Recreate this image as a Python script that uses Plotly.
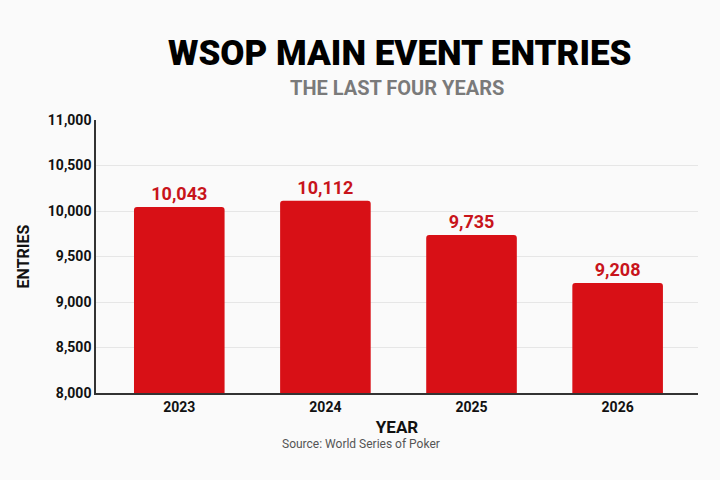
import plotly.graph_objects as go

years = ["2023", "2024", "2025", "2026"]
entries = [10043, 10112, 9735, 9208]
y_ticks = [8000, 8500, 9000, 9500, 10000, 10500, 11000]
y_tick_labels = ["8,000", "8,500", "9,000", "9,500", "10,000", "10,500", "11,000"]

BAR = "#D81016"
fig = go.Figure()
fig.add_trace(go.Bar(
    x=years, y=entries, width=0.62,
    marker=dict(color=BAR, line=dict(width=0)),
    text=[f"{v:,}" for v in entries], textposition="outside",
    textfont=dict(family="Roboto", size=18, color="#C8141B", weight="bold"),
    cliponaxis=False,
))

fig.update_layout(
    width=720, height=480,
    margin=dict(l=96, r=22, t=120, b=87),
    paper_bgcolor="#FAFAFA", plot_bgcolor="#FAFAFA",
    showlegend=False, barcornerradius=3,
    font=dict(family="Roboto", color="#111"),
    xaxis=dict(
        range=[-0.57, 3.55], showgrid=False, showline=True, linecolor="#333", linewidth=1.5,
        ticks="", tickfont=dict(size=14, color="#111", weight="bold"),
        title=dict(text="YEAR", font=dict(size=17, color="#111", weight="bold"), standoff=8),
    ),
    yaxis=dict(
        range=[8000, 11000], tickvals=y_ticks, ticktext=y_tick_labels,
        showgrid=True, gridcolor="#E6E6E6", gridwidth=1,
        showline=True, linecolor="#333", linewidth=1.5, ticks="",
        tickfont=dict(size=14, color="#111", weight="bold"),
        title=dict(text="ENTRIES", font=dict(size=16, color="#111", weight="bold"), standoff=14),
        zeroline=False,
    ),
    annotations=[
        dict(text="WSOP MAIN EVENT ENTRIES", xref="paper", xanchor="center",
             yref="paper", showarrow=False,
             font=dict(family="Roboto", size=35, color="#000", weight=900)),
        dict(text="THE LAST FOUR YEARS", xref="paper", yref="paper", showarrow=False,
             font=dict(family="Roboto", size=20, color="#7A7A7A", weight="bold")),
        dict(text="Source: World Series of Poker", xref="paper", yref="paper", showarrow=False,
             font=dict(family="Roboto", size=12, color="#555")),
    ],
)

# position annotations in pixel-derived paper coordinates
pw, ph = 720 - 96 - 22, 480 - 120 - 87
def px(x): return (x - 96) / pw
def py(y): return (393 - y) / ph
fig.layout.annotations[0].update(x=px(400), y=py(54), yanchor="middle")
fig.layout.annotations[1].update(x=px(397), y=py(88), yanchor="middle", xanchor="center")
fig.layout.annotations[2].update(x=px(361), y=py(444), yanchor="middle", xanchor="center")

fig.write_html("out.html")
